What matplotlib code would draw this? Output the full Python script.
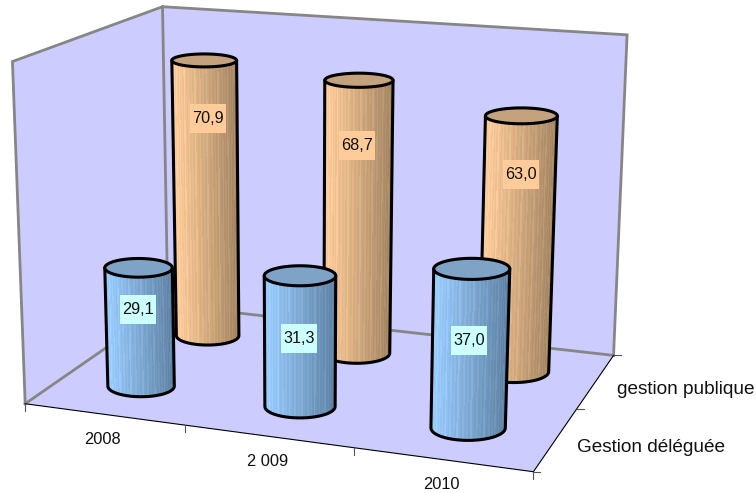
import numpy as np
import matplotlib
matplotlib.use("Agg")
import matplotlib.pyplot as plt
from matplotlib.colors import to_rgb
from matplotlib.patches import Polygon, Rectangle

plt.rcParams["font.family"] = ["Liberation Sans", "DejaVu Sans"]

years = ["2008", "2 009", "2010"]
series_names = ["Gestion déléguée", "gestion publique"]
gestion_deleguee = [29.1, 31.3, 37.0]
gestion_publique = [70.9, 68.7, 63.0]
value_max = 80.0

# height of each value label, as a share of its cylinder, and its sideways nudge
label_share_front = [0.65, 0.52, 0.55]
label_share_back = [0.79, 0.76, 0.77]
label_nudge_front = [0, 0, 0]
label_nudge_back = [4, 0, 2]

WALL = "#CCCCFF"
EDGE = "#868686"


def fit_projection():
    # box corners in chart units (x = category, y = value, z = series depth)
    world = [(0, 0, 0), (0, value_max, 0), (0, 0, 2), (0, value_max, 2),
             (3, 0, 2), (3, value_max, 2), (3, 0, 0)]
    screen = [(26, 404), (12, 61), (167, 305), (163, 7),
              (614, 355), (627, 35), (533, 472)]
    rows, rhs = [], []
    for (x, y, z), (u, v) in zip(world, screen):
        rows.append([x, y, z, 1, 0, 0, 0, 0, -u * x, -u * y, -u * z])
        rows.append([0, 0, 0, 0, x, y, z, 1, -v * x, -v * y, -v * z])
        rhs += [u, v]
    p = np.linalg.lstsq(np.array(rows, float), np.array(rhs, float), rcond=None)[0]
    return np.append(p, 1.0).reshape(3, 4)


P = fit_projection()


def project(x, y, z):
    h = P @ np.array([x, y, z, 1.0])
    return h[:2] / h[2]


def ellipse_points(cx, cy, a, start, stop, n=48):
    t = np.radians(np.linspace(start, stop, n))
    b = a * (0.178 + 0.00037 * cy)
    return cx + a * np.cos(t), cy + b * np.sin(t)


def shade(base, dark, f, i):
    # left to right falloff with the fine vertical banding of the fill
    col = np.array(to_rgb(base)) * (1 - f) + np.array(to_rgb(dark)) * f
    col = col + [0.0, 0.025, 0.0, 0.05, 0.015, 0.0, 0.035][i % 7]
    return np.clip(col, 0, 1)


def cylinder(ax, cat, depth, value, share, nudge, text, base, dark, top, box, zorder):
    x, z = cat + 0.5, depth + 0.5
    r = 0.215
    bx, by = project(x, 0, z)
    tx, ty = project(x, value, z)
    ba = abs(project(x + r, 0, z)[0] - project(x - r, 0, z)[0]) / 2
    ta = abs(project(x + r, value, z)[0] - project(x - r, value, z)[0]) / 2

    # front half of the side wall, split in narrow strips
    xb, yb = ellipse_points(bx, by, ba, 180, 0, 61)
    xt, yt = ellipse_points(tx, ty, ta, 180, 0, 61)
    for i in range(60):
        f = (xb[i] - xb[0]) / (xb[-1] - xb[0])
        quad = [(xb[i], yb[i]), (xb[i + 1], yb[i + 1]), (xt[i + 1], yt[i + 1]), (xt[i], yt[i])]
        ax.add_patch(Polygon(quad, closed=True, fc=shade(base, dark, f, i), ec="none",
                             lw=0, antialiased=False, zorder=zorder))

    # outline of the side, then the top cap
    ax.plot(np.r_[xt[0], xb, xt[-1]], np.r_[yt[0], yb, yt[-1]], color="black", lw=2.2,
            solid_capstyle="round", solid_joinstyle="round", zorder=zorder + 0.1)
    cx, cy = ellipse_points(tx, ty, ta, 0, 360, 80)
    ax.add_patch(Polygon(np.c_[cx, cy], closed=True, fc=top, ec="black", lw=2.2,
                         zorder=zorder + 0.2))

    # value label on its pale box
    lx = bx + (tx - bx) * share - 1 + nudge
    ly = by + (ty - by) * share
    ax.add_patch(Rectangle((lx - 18, ly - 14.5), 36, 29, fc=box, ec="none", zorder=zorder + 0.3))
    ax.text(lx, ly, text, ha="center", va="center", fontsize=11.7, color="#111111",
            zorder=zorder + 0.4)


fig = plt.figure(figsize=(7.56, 4.93), dpi=100)
ax = fig.add_axes([0, 0, 1, 1])
ax.set_xlim(0, 756)
ax.set_ylim(493, 0)
ax.axis("off")

# walls and floor
fl, tl = project(0, 0, 0), project(0, value_max, 0)
bl, btl = project(0, 0, 2), project(0, value_max, 2)
br, btr = project(3, 0, 2), project(3, value_max, 2)
fr = project(3, 0, 0)
ax.add_patch(Polygon([fl, tl, btl, bl], closed=True, fc=WALL, ec="none", zorder=1))
ax.add_patch(Polygon([bl, btl, btr, br], closed=True, fc=WALL, ec="none", zorder=1))
ax.add_patch(Polygon([fl, bl, br, fr], closed=True, fc=WALL, ec="none", zorder=1))
for seg in ([fl, tl, btl, btr, br], [fl, bl, br], [bl, btl]):
    seg = np.array(seg)
    ax.plot(seg[:, 0], seg[:, 1], color=EDGE, lw=2.0, solid_joinstyle="miter", zorder=2)

# floor axes with their ticks
seg = np.array([fl, fr, br])
ax.plot(seg[:, 0], seg[:, 1], color="black", lw=0.8, zorder=2.5)
for i in range(len(years) + 1):
    p = project(i, 0, 0)
    ax.plot([p[0], p[0]], [p[1], p[1] + 7], color="#555555", lw=0.8, zorder=2.5)
for i in range(len(series_names) + 1):
    p = project(3, 0, i)
    ax.plot([p[0], p[0] + 7], [p[1], p[1]], color="#555555", lw=0.8, zorder=2.5)

for i, year in enumerate(years):
    p = project(i + 0.5, 0, 0)
    ax.text(p[0] - 1, p[1] + 25, year, ha="center", va="center", fontsize=11.8, color="#111111")
for i, name in enumerate(series_names):
    p = project(3, 0, i + 0.5)
    ax.text(p[0] + 21, p[1] + 8, name, ha="left", va="center", fontsize=13.7, color="#111111")

for i, v in enumerate(gestion_publique):
    cylinder(ax, i, 1, v, label_share_back[i], label_nudge_back[i], f"{v:.1f}".replace(".", ","),
             "#FFCC99", "#A0825F", "#C4A27E", "#FFCC99", 3 + i * 0.01)
for i, v in enumerate(gestion_deleguee):
    cylinder(ax, i, 0, v, label_share_front[i], label_nudge_front[i], f"{v:.1f}".replace(".", ","),
             "#99CCFF", "#5C7FA0", "#7FA3C7", "#CCFFFF", 5 + i * 0.01)

fig.savefig("out.png", dpi=100)
